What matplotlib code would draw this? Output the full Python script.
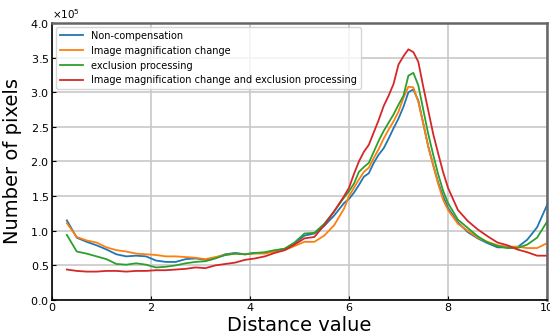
import matplotlib
matplotlib.use("Agg")
import matplotlib.pyplot as plt
from matplotlib.ticker import ScalarFormatter

x = [0.3,0.5,0.7,0.9,1.1,1.3,1.5,1.7,1.9,2.1,2.3,2.5,2.7,2.9,3.1,3.3,3.5,3.7,3.9,4.1,4.3,4.5,4.7,4.9,5.1,5.3,5.5,5.7,5.9,
     6.0,6.1,6.2,6.3,6.4,6.5,6.6,6.7,6.8,6.9,7.0,7.1,7.2,7.3,7.4,7.5,7.6,7.7,7.8,7.9,8.0,
     8.2,8.4,8.6,8.8,9.0,9.2,9.4,9.6,9.8,10.0]

non_comp = [1.15,0.90,0.84,0.79,0.73,0.66,0.63,0.64,0.63,0.57,0.55,0.55,0.59,0.60,0.58,0.61,0.66,0.68,0.66,0.68,0.68,0.71,0.74,0.82,0.93,0.96,1.07,1.22,1.40,
            1.46,1.55,1.66,1.78,1.83,1.98,2.10,2.19,2.33,2.48,2.62,2.79,3.00,3.04,2.88,2.55,2.22,1.95,1.70,1.50,1.33,
            1.12,0.98,0.89,0.82,0.76,0.76,0.76,0.87,1.05,1.37]

img_mag = [1.11,0.91,0.86,0.83,0.76,0.72,0.70,0.67,0.66,0.65,0.63,0.63,0.62,0.61,0.59,0.62,0.65,0.67,0.66,0.67,0.67,0.70,0.72,0.78,0.84,0.84,0.93,1.08,1.32,
           1.50,1.62,1.74,1.85,1.91,2.05,2.18,2.33,2.46,2.58,2.72,2.92,3.08,3.07,2.86,2.55,2.22,1.95,1.68,1.45,1.30,
           1.10,1.00,0.90,0.84,0.79,0.77,0.77,0.75,0.75,0.82]

exclusion = [0.94,0.70,0.67,0.63,0.59,0.52,0.51,0.53,0.51,0.47,0.48,0.50,0.53,0.55,0.56,0.60,0.65,0.67,0.66,0.68,0.69,0.72,0.74,0.83,0.96,0.97,1.10,1.28,1.48,
             1.57,1.68,1.85,1.92,1.98,2.14,2.30,2.44,2.56,2.68,2.82,2.95,3.24,3.28,3.10,2.75,2.40,2.10,1.82,1.58,1.40,
             1.16,1.04,0.92,0.83,0.78,0.75,0.75,0.80,0.90,1.13]

both = [0.44,0.42,0.41,0.41,0.42,0.42,0.41,0.42,0.42,0.43,0.43,0.44,0.45,0.47,0.46,0.50,0.52,0.54,0.58,0.60,0.63,0.68,0.72,0.80,0.89,0.91,1.08,1.28,1.50,
        1.62,1.82,2.00,2.14,2.24,2.42,2.60,2.80,2.95,3.12,3.40,3.52,3.62,3.58,3.44,3.08,2.74,2.40,2.12,1.85,1.62,
        1.30,1.14,1.02,0.92,0.83,0.79,0.73,0.69,0.64,0.64]

labels = ["Non-compensation", "Image magnification change", "exclusion processing",
          "Image magnification change and exclusion processing"]
colors = ["#1f77b4", "#ff7f0e", "#2ca02c", "#d62728"]
series = [non_comp, img_mag, exclusion, both]

fig = plt.figure(figsize=(5.5, 3.34), dpi=100)
ax = fig.add_axes([52/550, 34/334, 495/550, 277/334])
for s, lab, c in zip(series, labels, colors):
    ax.plot(x, [v * 1e5 for v in s], color=c, lw=1.3, label=lab)

ax.set_xlim(0, 10)
ax.set_ylim(0, 4e5)
ax.set_xticks([0, 2, 4, 6, 8, 10])
ax.set_yticks([i * 0.5e5 for i in range(9)])
fmt = ScalarFormatter(useMathText=True)
fmt.set_powerlimits((5, 5))
ax.yaxis.set_major_formatter(fmt)
ax.yaxis.get_offset_text().set_fontsize(7.5)
ax.tick_params(direction="in", length=3, labelsize=8, pad=2)
ax.grid(True, color="#c8c8c8", lw=1.2)
ax.set_axisbelow(True)
for side in ["top", "right"]:
    ax.spines[side].set_color("#666666")
    ax.spines[side].set_linewidth(1.8)
for side in ["left", "bottom"]:
    ax.spines[side].set_color("black")
    ax.spines[side].set_linewidth(1.2)
ax.set_xlabel("Distance value", fontsize=14, labelpad=2)
ax.set_ylabel("Number of pixels", fontsize=14, labelpad=6)
ax.legend(loc="upper left", fontsize=7, frameon=True, framealpha=0.8,
          handlelength=2.4, borderaxespad=0.4)
fig.savefig("out.png", dpi=100)
